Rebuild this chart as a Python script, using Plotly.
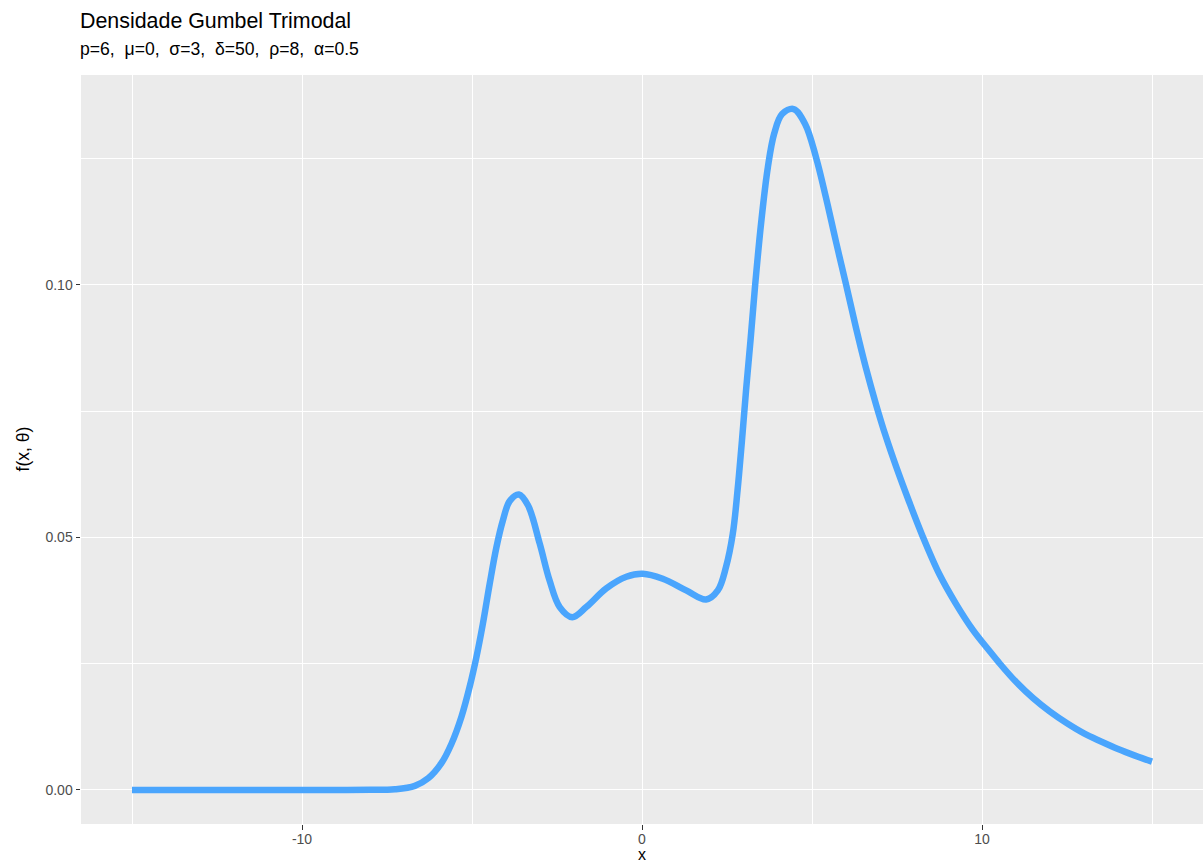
import plotly.graph_objects as go

# Values
x_vals = [-15, -12, -10, -9, -8, -7.27, -6.68, -6.29, -5.90, -5.60, -5.31, -5.07,
          -4.87, -4.68, -4.48, -4.28, -4.09, -3.89, -3.62, -3.35, -3.01, -2.72,
          -2.42, -2.05, -1.64, -1.05, -0.46, 0.02, 0.61, 1.30, 1.885, 2.23, 2.47,
          2.67, 2.81, 2.94, 3.06, 3.19, 3.33, 3.50, 3.70, 3.89, 4.12, 4.46, 4.80,
          5.12, 5.41, 5.70, 6.00, 6.29, 6.58, 6.88, 7.17, 7.47, 7.86, 8.25, 8.74,
          9.23, 9.72, 10.21, 10.5, 11.0, 11.5, 12.0, 12.5, 13.0, 13.5, 14.0, 14.5,
          15.0]
y_vals = [0, 0, 0, 0, 0.00002, 0.00014, 0.0008, 0.0023, 0.0053, 0.0092, 0.0145,
          0.0204, 0.0263, 0.0329, 0.0408, 0.0481, 0.0534, 0.0572, 0.0585, 0.0563,
          0.0488, 0.0415, 0.0362, 0.0342, 0.0362, 0.0399, 0.0422, 0.0428, 0.0418,
          0.0395, 0.0377, 0.0395, 0.0441, 0.0507, 0.0593, 0.0692, 0.0791, 0.0889,
          0.1001, 0.1120, 0.1232, 0.1300, 0.1338, 0.1348, 0.1318, 0.1252, 0.1173,
          0.1087, 0.1001, 0.0916, 0.0837, 0.0764, 0.0700, 0.0641, 0.0570, 0.0503,
          0.0428, 0.0369, 0.0318, 0.0276, 0.0252, 0.0214, 0.0182, 0.0155, 0.0132,
          0.0112, 0.0096, 0.0081, 0.0068, 0.0056]

x_ticks = [-10, 0, 10]
x_tick_labels = ["-10", "0", "10"]
y_ticks = [0.00, 0.05, 0.10]
y_tick_labels = ["0.00", "0.05", "0.10"]

title_text = "Densidade Gumbel Trimodal"
subtitle_text = "p=6,\u00a0 \u03bc=0,\u00a0 \u03c3=3,\u00a0 \u03b4=50,\u00a0 \u03c1=8,\u00a0 \u03b1=0.5"
x_title = "x"
y_title = "f(x, \u03b8)"

FONT = "Liberation Sans, Arial, sans-serif"

fig = go.Figure()
fig.add_trace(go.Scatter(
    x=x_vals, y=y_vals, mode="lines",
    line=dict(color="#4AA5FD", width=6.5, shape="spline", smoothing=1.0),
    hoverinfo="skip", showlegend=False,
))

ymax = max(y_vals)
ymin = min(y_vals)
ypad = (ymax - ymin) * 0.05
xpad = (15 - (-15)) * 0.05

axis_common = dict(
    showgrid=True, gridcolor="white", gridwidth=1.3,
    zeroline=False, showline=False,
    ticks="outside", ticklen=4.5, tickwidth=1.3, tickcolor="#333333",
    tickfont=dict(family=FONT, size=14, color="#4D4D4D"),
)

fig.update_layout(
    width=1203, height=863,
    margin=dict(l=81, r=0, t=75, b=39),
    paper_bgcolor="white", plot_bgcolor="#EBEBEB",
    font=dict(family=FONT),
    xaxis=dict(range=[-15 - xpad, 15 + xpad], tickvals=x_ticks, ticktext=x_tick_labels,
               ticklabelstandoff=-2,
               minor=dict(dtick=5, tick0=0, showgrid=True, gridcolor="white",
                          gridwidth=0.65, ticks=""),
               **axis_common),
    yaxis=dict(range=[ymin - ypad, ymax + ypad], tickvals=y_ticks, ticktext=y_tick_labels,
               minor=dict(dtick=0.025, tick0=0, showgrid=True, gridcolor="white",
                          gridwidth=0.65, ticks=""),
               **axis_common),
    annotations=[
        dict(text=title_text, xref="paper", yref="paper", x=-3 / 1122, y=1 + (75 - 20.5) / 749,
             xanchor="left", yanchor="middle", showarrow=False,
             font=dict(family=FONT, size=21.4, color="black")),
        dict(text=subtitle_text, xref="paper", yref="paper", x=-3 / 1122, y=1 + (75 - 49) / 749,
             xanchor="left", yanchor="middle", showarrow=False,
             font=dict(family=FONT, size=17.6, color="black")),
        dict(text=x_title, xref="x", yref="paper", x=0, y=-(854 - 824) / 749,
             xanchor="center", yanchor="middle", showarrow=False, borderpad=0,
             font=dict(family=FONT, size=16, color="black")),
        dict(text=y_title, xref="paper", yref="paper", x=(22 - 81) / 1122, y=0.5,
             xanchor="center", yanchor="middle", textangle=-90, showarrow=False,
             font=dict(family=FONT, size=17.6, color="black")),
    ],
)

fig.write_html("out.html")
